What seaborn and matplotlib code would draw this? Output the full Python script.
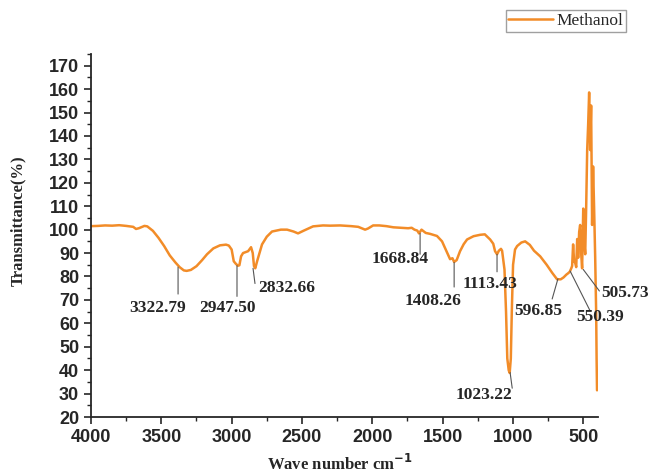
#Importations
import numpy as np
import pandas as pd
import seaborn as sns
import matplotlib.pyplot as plt
from matplotlib.ticker import MultipleLocator

#Data
wavenumber = [4000, 3950, 3900, 3850, 3800, 3750, 3700, 3680, 3660, 3620,
              3600, 3560, 3520, 3480, 3440, 3400, 3370, 3340, 3320, 3290,
              3250, 3210, 3175, 3130, 3083, 3040, 3020, 3000, 2985, 2970,
              2955, 2945, 2933, 2919, 2900, 2883, 2862, 2850, 2841, 2832,
              2819, 2800, 2784, 2750, 2713, 2650, 2606, 2560, 2528, 2490,
              2421, 2350, 2300, 2229, 2150, 2100, 2051, 2030, 1994, 1950,
              1900, 1850, 1800, 1745, 1720, 1700, 1680, 1668, 1650, 1620,
              1589, 1540, 1504, 1470, 1447, 1430, 1418, 1400, 1376, 1350,
              1326, 1280, 1233, 1200, 1162, 1140, 1127, 1113, 1100, 1085,
              1077, 1060, 1049, 1040, 1030, 1023, 1015, 1008, 999, 985,
              970, 940, 913, 880, 850, 806, 760, 720, 686, 660,
              640, 620, 607, 596, 585, 579, 575, 572, 565, 558,
              550, 543, 536, 529, 522, 515, 508, 500, 493, 486,
              479, 472, 465, 458, 451, 444, 437, 430, 423, 415,
              408, 405, 402]
transmittance = [101.5, 101.6, 101.8, 101.7, 101.9, 101.6, 101.2, 100.3, 100.6, 101.6,
                 101.4, 99.5, 96.5, 93.0, 89.0, 86.0, 84.0, 82.6, 82.4, 82.8,
                 84.4, 87.0, 89.5, 92.0, 93.3, 93.6, 93.2, 91.5, 86.5, 85.4,
                 84.6, 84.8, 88.6, 90.0, 90.4, 90.8, 92.5, 90.0, 84.4, 83.5,
                 86.5, 90.5, 93.7, 97.0, 99.2, 100.0, 100.0, 99.2, 98.4, 99.5,
                 101.4, 101.8, 101.7, 101.8, 101.5, 101.2, 100.0, 100.5, 101.8, 101.8,
                 101.5, 101.0, 100.8, 100.6, 100.8, 100.0, 99.6, 98.4, 100.0, 98.6,
                 98.2, 97.3, 95.0, 90.5, 87.4, 87.8, 86.2, 87.0, 90.8, 93.8,
                 95.8, 97.2, 97.8, 98.0, 95.8, 94.0, 90.8, 89.5, 91.0, 91.8,
                 91.0, 83.0, 65.0, 45.0, 40.0, 38.8, 45.0, 65.0, 85.0, 91.5,
                 93.0, 94.5, 95.0, 93.5, 91.0, 88.6, 85.0, 81.5, 78.8, 78.8,
                 79.6, 80.8, 81.4, 82.0, 83.5, 84.5, 90.0, 93.7, 86.5, 86.0,
                 84.0, 96.0, 88.0, 99.0, 102.0, 90.0, 83.5, 109.0, 95.0, 89.5,
                 110.0, 134.0, 145.0, 158.6, 134.0, 153.0, 102.0, 127.0, 110.0, 88.0,
                 64.0, 45.0, 31.4]

peak_labels = ['3322.79', '2947.50', '2832.66', '1668.84', '1408.26',
               '1113.43', '1023.22', '596.85', '550.39', '505.73']

#Label layout: leader start, leader end, text centre (data coords)
leader_start = [(3381, 84.0), (2962, 84.6), (2848, 83.5), (1660, 98.4), (1418, 86.0),
                (1113, 89.5), (1020, 39.0), (680, 79.0), (593, 82.3), (500, 83.0)]
leader_end = [(3381, 72.5), (2962, 71.5), (2834, 77.0), (1660, 89.5), (1418, 75.5),
              (1113, 82.0), (1005, 32.3), (721, 70.4), (451, 65.3), (385, 73.8)]
text_pos = [(3523, 66.5), (3026, 66.5), (2606, 75.0), (1802, 87.4), (1568, 69.6),
            (1162, 76.8), (1205, 29.3), (820, 65.3), (380, 62.8), (202, 73.0)]

df = pd.DataFrame({'Wave number': wavenumber, 'Transmittance': transmittance,
                   'Sample': 'Methanol'})

#Visualization
sns.set_style('ticks')
plt.rcParams['font.family'] = ['Liberation Sans', 'DejaVu Sans']

fig = plt.figure(figsize=(6.51, 4.75), dpi=100)
ax = fig.add_axes([0.1398, 0.1221, 0.7788, 0.7642])

sns.lineplot(data=df, x='Wave number', y='Transmittance', hue='Sample',
             palette=['#F28C28'], linewidth=1.8, sort=False, ax=ax, legend=False)

ax.set_xlim(4000, 395)
ax.set_ylim(20, 175)
ax.xaxis.set_major_locator(MultipleLocator(500))
ax.xaxis.set_minor_locator(MultipleLocator(250))
ax.yaxis.set_major_locator(MultipleLocator(10))
ax.yaxis.set_minor_locator(MultipleLocator(5))
ax.set_yticks(np.arange(20, 171, 10))
ax.tick_params(which='major', length=5, width=1.2, labelsize=13)
ax.tick_params(which='minor', length=3, width=1.0)
for lab in ax.get_xticklabels() + ax.get_yticklabels():
    lab.set_fontweight('bold')
for side in ['left', 'bottom']:
    ax.spines[side].set_linewidth(1.3)
sns.despine(ax=ax)

serif = ['Liberation Serif', 'DejaVu Serif']
ax.set_xlabel('Wave number cm$^{\\mathbf{-1}}$', family=serif, fontsize=12,
              fontweight='bold', va='center')
ax.xaxis.set_label_coords(0.49, -0.13)
ax.set_ylabel('Transmittance(%)', family=serif, fontsize=12, fontweight='bold')
ax.yaxis.set_label_coords(-0.128, 0.54)

for lab, p0, p1, tp in zip(peak_labels, leader_start, leader_end, text_pos):
    ax.annotate('', xy=p0, xytext=p1,
                arrowprops=dict(arrowstyle='-', color='#555555', lw=0.8,
                                shrinkA=0, shrinkB=0))
    ax.text(tp[0], tp[1], lab, family=serif, fontsize=12.5, fontweight='bold',
            ha='center', va='center', clip_on=False)

handle = plt.Line2D([], [], color='#F28C28', linewidth=1.8)
fig.legend([handle], ['Methanol'], loc='upper right',
           bbox_to_anchor=(0.962, 0.978), prop={'family': serif, 'size': 12.5},
           frameon=True, fancybox=False, edgecolor='#888888', handlelength=2.6,
           borderpad=0.15, handletextpad=0.2, borderaxespad=0)

fig.savefig('out.png', dpi=100)
